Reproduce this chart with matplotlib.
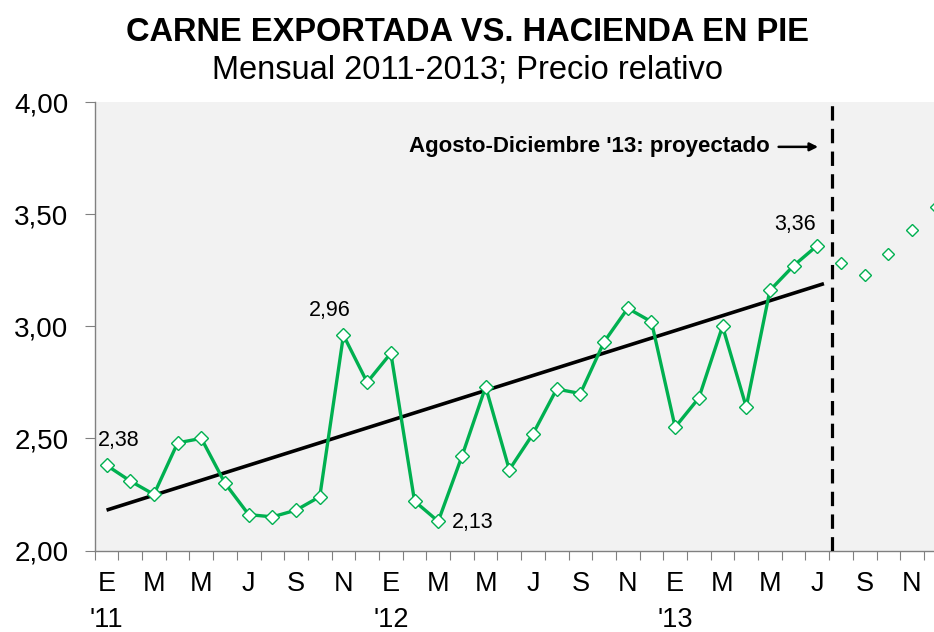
import matplotlib
matplotlib.use("Agg")
import matplotlib.pyplot as plt
import numpy as np

plt.rcParams['font.family'] = ['Liberation Sans', 'DejaVu Sans']

# ---- data ----
months = ["E", "F", "M", "A", "M", "J", "J", "A", "S", "O", "N", "D"]
years = ["'11", "'12", "'13"]
actual = [2.38, 2.31, 2.25, 2.48, 2.50, 2.30, 2.16, 2.15, 2.18, 2.24, 2.96, 2.75,
          2.88, 2.22, 2.13, 2.42, 2.73, 2.36, 2.52, 2.72, 2.70, 2.93, 3.08, 3.02,
          2.55, 2.68, 3.00, 2.64, 3.16, 3.27, 3.36]
projected = [3.28, 3.23, 3.32, 3.43, 3.53]
trend_ends = [2.18, 3.19]
labeled_idx = [0, 10, 14, 30]
title = "CARNE EXPORTADA VS. HACIENDA EN PIE"
subtitle = "Mensual 2011-2013; Precio relativo"
note = "Agosto-Diciembre '13: proyectado"
yticks = [2.0, 2.5, 3.0, 3.5, 4.0]

green = "#00B050"
n_total = len(years) * 12
x_act = np.arange(len(actual)) + 0.5
x_proj = np.arange(len(actual), len(actual) + len(projected)) + 0.5

fig = plt.figure(figsize=(9.34, 6.32), dpi=100)
ax = fig.add_axes([94.7 / 934, 1 - 550.5 / 632, (947.6 - 94.7) / 934, (550.5 - 102) / 632])
ax.set_facecolor("#F2F2F2")

ax.set_xlim(0, n_total)
ax.set_ylim(2.0, 4.0)

# trend line
xt = np.array([x_act[0], x_act[-1] + 0.28])
ax.plot(xt, trend_ends, color="black", lw=2.6, zorder=2, solid_capstyle="butt")

ax.plot(x_act, actual, color=green, lw=2.4, marker="D", ms=7, mfc="white", mec=green, mew=1.0, zorder=3)
ax.plot(x_proj, projected, ls="none", marker="D", ms=6.5, mfc="white", mec=green, mew=1.0, zorder=3)

# divider
ax.axvline(len(actual) + 0.1, color="black", lw=2.3, ls=(0, (4.5, 2.6)), zorder=4)

# data labels
offsets = {0: (9, 18), 10: (-10, 18), 14: (25, -1), 30: (-16, 15)}
for i in labeled_idx:
    dx, dy = offsets[i]
    ax.annotate(f"{actual[i]:.2f}".replace(".", ","), (x_act[i], actual[i]), xytext=(dx, dy),
                textcoords="offset points", ha="center", va="center", fontsize=15.5, zorder=5)

# note with arrow
ax.annotate("", xy=(len(actual) - 0.35, 3.80), xytext=(len(actual) - 2.25, 3.80),
            arrowprops=dict(arrowstyle="-|>", color="black", lw=1.8, mutation_scale=12))
ax.text(len(actual) - 2.5, 3.80, note, ha="right", va="center", fontsize=16, fontweight="bold")

# axes styling
for s in ["top", "right"]:
    ax.spines[s].set_visible(False)
for s in ["left", "bottom"]:
    ax.spines[s].set_color("#808080")
    ax.spines[s].set_linewidth(1.0)

ax.set_yticks(yticks)
ax.set_yticklabels([f"{v:.2f}".replace(".", ",") for v in yticks], fontsize=20)
ax.tick_params(axis="y", direction="out", length=7, color="#808080", pad=12)

ax.set_xticks(np.arange(n_total + 1), minor=False)
ax.set_xticklabels([])
ax.tick_params(axis="x", which="major", direction="out", length=6.5, color="#808080")
lbl_pos = []
lbl_txt = []
for yi, yr in enumerate(years):
    for mi in range(0, 12, 2):
        lbl_pos.append(yi * 12 + mi + 0.5)
        lbl_txt.append(months[mi] + ("\n" + yr if mi == 0 else "\n "))
ax.set_xticks(lbl_pos, minor=True)
ax.set_xticklabels(lbl_txt, minor=True, fontsize=19.5, linespacing=1.5)
ax.tick_params(axis="x", which="minor", length=0, pad=15)

fig.text(0.5, 1 - 40.7 / 632, title, ha="center", va="baseline", fontsize=23.5, fontweight="bold")
fig.text(0.5, 1 - 78.3 / 632, subtitle, ha="center", va="baseline", fontsize=23.5)

fig.savefig("out.png", dpi=100)
